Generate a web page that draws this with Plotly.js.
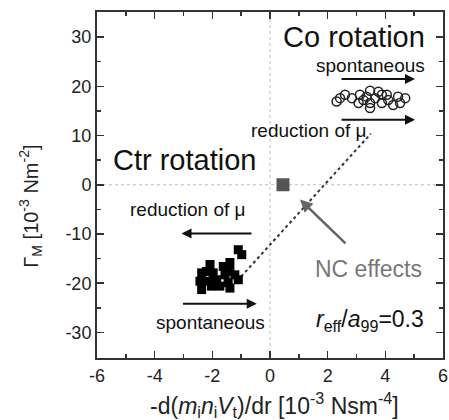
<!DOCTYPE html>
<html><head><meta charset="utf-8">
<script src="https://cdn.plot.ly/plotly-3.0.1.min.js"></script>
<style>html,body{margin:0;padding:0;background:#fff}</style>
</head><body><div id="chart" style="width:449px;height:420px"></div>
<script>
// Co rotation (open circles)
const coX = [2.31, 2.43, 2.6, 2.84, 3.07, 3.12, 3.24, 3.35, 3.47, 3.47, 3.47, 3.65, 3.76, 3.88, 3.88, 4.05, 4.1, 4.27, 4.44, 4.51, 4.69];
const coY = [16.9, 17.6, 18.3, 17.6, 16.6, 18.3, 17.2, 17.9, 19.1, 16.6, 15.6, 17.6, 18.9, 18.3, 16.6, 18.3, 17.2, 16.2, 17.9, 16.6, 17.6];
// Ctr rotation (filled squares)
const ctrX = [-1.1, -0.98, -2.08, -1.62, -1.39, -2.37, -1.97, -1.56, -1.22, -1.1, -2.43, -2.14, -1.85, -1.45, -2.37, -1.39, -1.74, -2.03, -2.2, -1.39];
const ctrY = [-13.2, -14.2, -16.2, -16.6, -15.8, -17.9, -17.9, -18.3, -18.3, -19.3, -19.6, -19.6, -19.3, -19.9, -21.3, -21.0, -20.6, -20.6, -17.6, -17.6];
// NC effects point
const ncX = [0.45];
const ncY = [0];
// dotted trend line
const lineX = [-1.0, 3.5];
const lineY = [-18.65, 10.4];
const xTicks = [-6, -4, -2, 0, 2, 4, 6];
const xTickText = ['-6', '-4', '-2', '0', '2', '4', '6'];
const yTicks = [-30, -20, -10, 0, 10, 20, 30];
const yTickText = ['-30', '-20', '-10', '0', '10', '20', '30'];

const traces = [
  {x: lineX, y: lineY, mode: 'lines', line: {color: '#333', dash: 'dot', width: 2}, hoverinfo: 'skip'},
  {x: coX, y: coY, mode: 'markers', marker: {symbol: 'circle-open', size: 9, color: '#222', line: {width: 1.5, color: '#222'}}},
  {x: ctrX, y: ctrY, mode: 'markers', marker: {symbol: 'square', size: 9, color: '#000'}},
  {x: ncX, y: ncY, mode: 'markers', marker: {symbol: 'square', size: 13, color: '#555'}}
];

const F = 'Liberation Sans, Arial, sans-serif';
const arrow = (x0, x1, y) => ({x: x1, y: y, ax: x0, ay: y, xref: 'x', yref: 'y', axref: 'x', ayref: 'y', showarrow: true, arrowhead: 2, arrowsize: 1, arrowwidth: 2, arrowcolor: '#111', text: ''});
const txt = (x, y, t, size, color) => ({x: x, y: y, xref: 'x', yref: 'y', text: t, showarrow: false, font: {family: F, size: size, color: color || '#111'}, xanchor: 'center', yanchor: 'middle'});

const layout = {
  width: 449, height: 420,
  margin: {l: 97, r: 6, t: 12, b: 62},
  paper_bgcolor: '#fff', plot_bgcolor: '#fff',
  showlegend: false,
  font: {family: F, size: 18, color: '#222'},
  xaxis: {
    range: [-6, 6], tickvals: xTicks, ticktext: xTickText, ticks: 'inside', ticklen: 7, tickwidth: 1.5, tickcolor: '#333',
    showline: true, linecolor: '#333', linewidth: 2, mirror: 'allticks', showgrid: false, zeroline: false,
    minor: {ticks: 'inside', ticklen: 4, tickwidth: 1.5, tickcolor: '#333', dtick: 1, tick0: 0},
    tickfont: {size: 18, family: F, color: '#222'}
  },
  yaxis: {
    range: [-35.2, 35.1], tickvals: yTicks, ticktext: yTickText, ticks: 'inside', ticklen: 7, tickwidth: 1.5, tickcolor: '#333',
    showline: true, linecolor: '#333', linewidth: 2, mirror: 'allticks', showgrid: false, zeroline: false,
    minor: {ticks: 'inside', ticklen: 4, tickwidth: 1.5, tickcolor: '#333', dtick: 5, tick0: 0},
    tickfont: {size: 18, family: F, color: '#222'}
  },
  shapes: [
    {type: 'line', xref: 'x', yref: 'y', x0: 0, x1: 0, y0: -35.2, y1: 35.1, line: {color: '#bbb', width: 1, dash: 'dot'}, layer: 'below'},
    {type: 'line', xref: 'x', yref: 'y', x0: -6, x1: 6, y0: 0, y1: 0, line: {color: '#bbb', width: 1, dash: 'dot'}, layer: 'below'}
  ],
  annotations: [
    {xref: 'paper', yref: 'paper', x: 0.512, y: -0.136, xanchor: 'center', yanchor: 'middle', showarrow: false,
     text: '-d(<i>m</i><sub>i</sub><i>n</i><sub>i</sub><i>V</i><sub>t</sub>)/dr [10<sup>-3</sup> Nsm<sup>-4</sup>]', font: {size: 23, family: F, color: '#222'}},
    {xref: 'paper', yref: 'paper', x: -0.191, y: 0.44, xanchor: 'center', yanchor: 'middle', showarrow: false, textangle: -90,
     text: 'Γ<sub>M</sub> [10<sup>-3</sup> Nm<sup>-2</sup>]', font: {size: 20, family: F, color: '#222'}},
    txt(2.93, 30, 'Co rotation', 29),
    txt(3.47, 24.3, 'spontaneous', 19),
    arrow(2.43, 5.03, 21.5),
    arrow(2.43, 5.03, 13.2),
    txt(1.35, 11.0, 'reduction of μ', 19),
    txt(-2.95, 5.1, 'Ctr rotation', 29),
    txt(-2.85, -5.1, 'reduction of μ', 19),
    arrow(-0.59, -3.07, -9.9),
    arrow(-3.07, -0.46, -24.2),
    txt(-2.08, -28.0, 'spontaneous', 19),
    txt(3.4, -17.2, 'NC effects', 23, '#777'),
    {x: 1.04, y: -3.0, ax: 2.67, ay: -12.2, xref: 'x', yref: 'y', axref: 'x', ayref: 'y', showarrow: true, arrowhead: 2, arrowsize: 1, arrowwidth: 2.5, arrowcolor: '#666', text: ''},
    txt(3.47, -27.6, '<i>r</i><sub>eff</sub>/<i>a</i><sub>99</sub>=0.3', 23)
  ]
};
Plotly.newPlot('chart', traces, layout, {staticPlot: true, displayModeBar: false});
</script></body></html>
